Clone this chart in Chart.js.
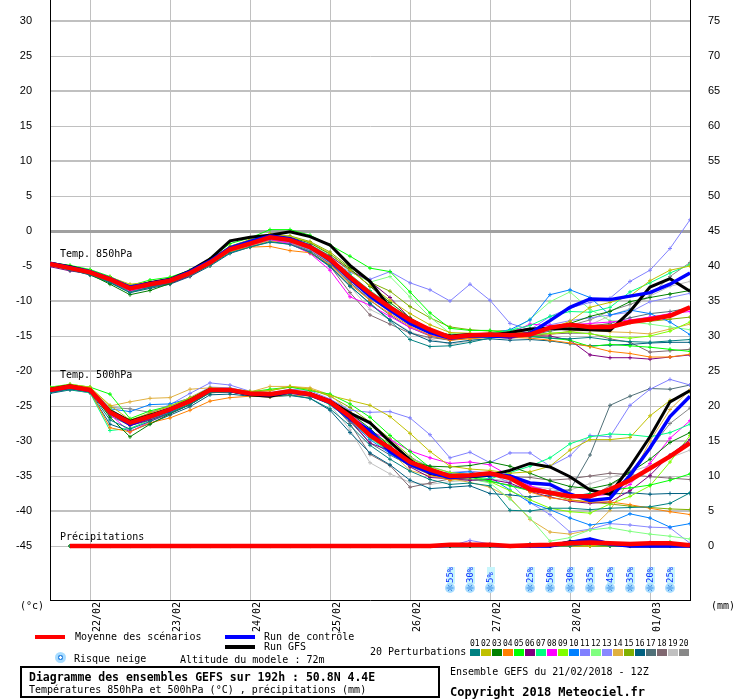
<!DOCTYPE html>
<html>
<head>
<meta charset="utf-8">
<script src="https://cdn.jsdelivr.net/npm/chart.js@4.4.1/dist/chart.umd.min.js"></script>
<style>
  body { margin: 0; background: #fff; }
  #wrap { position: relative; width: 740px; height: 700px; font-family: "DejaVu Sans Mono", monospace; font-size: 10px; color: #000; }
  #wrap canvas { position: absolute; left: 0; top: 0; }
  .t { position: absolute; white-space: nowrap; line-height: 12px; height: 12px; }
  .bar { position: absolute; height: 4px; width: 30px; }
  .b { font-weight: bold; }
  .sq { position: absolute; width: 10px; height: 7px; top: 649px; }
  .num { position: absolute; top: 639px; font-size: 8px; line-height: 9px; }
  .flake { position: absolute; width: 11px; height: 11px; border-radius: 50%;
    background: radial-gradient(circle, #ffffff 0 1px, #3a8ee6 1.5px 2.5px, #a8dcff 3px); }
  #box { position: absolute; left: 20px; top: 666px; width: 416px; height: 28px; border: 2px solid #000; }
</style>
</head>
<body>
<div id="wrap">
  <canvas id="chart" width="740" height="700"></canvas>

  <div class="t" style="left:60px;top:248px">Temp. 850hPa</div>
  <div class="t" style="left:60px;top:369px">Temp. 500hPa</div>
  <div class="t" style="left:60px;top:531px">Précipitations</div>
  <div class="t" style="left:20px;top:600px">(°c)</div>
  <div class="t" style="left:711px;top:600px">(mm)</div>

  <div class="bar" style="left:35px;top:635px;background:#ff0000"></div>
  <div class="t" style="left:75px;top:631px">Moyenne des scénarios</div>
  <div class="bar" style="left:225px;top:635px;background:#0000ff"></div>
  <div class="t" style="left:264px;top:631px">Run de contrôle</div>
  <div class="bar" style="left:225px;top:645px;background:#000000"></div>
  <div class="t" style="left:264px;top:641px">Run GFS</div>
  <div class="flake" style="left:55px;top:652px"></div>
  <div class="t" style="left:74px;top:653px">Risque neige</div>
  <div class="t" style="left:180px;top:654px">Altitude du modele : 72m</div>
  <div class="t" style="left:370px;top:646px">20 Perturbations</div>
  <div id="legendSquares"></div>

  <div id="box"></div>
  <div class="t b" style="left:29px;top:671px;font-size:11.5px">Diagramme des ensembles GEFS sur 192h : 50.8N 4.4E</div>
  <div class="t" style="left:29px;top:684px">Températures 850hPa et 500hPa (°C) , précipitations (mm)</div>
  <div class="t" style="left:450px;top:666px">Ensemble GEFS du 21/02/2018 - 12Z</div>
  <div class="t b" style="left:450px;top:686px;font-size:12px">Copyright 2018 Meteociel.fr</div>
</div>

<script>
// échéances (heures depuis le 21/02 12Z)
const hours = [0,6,12,18,24,30,36,42,48,54,60,66,72,78,84,90,96,102,108,114,120,126,132,138,144,150,156,162,168,174,180,186,192];
const dateHours = [12,36,60,84,108,132,156,180];
const dateLabels = ["22/02","23/02","24/02","25/02","26/02","27/02","28/02","01/03"];
const leftTicks = [-45,-40,-35,-30,-25,-20,-15,-10,-5,0,5,10,15,20,25,30];
const rightTicks = [0,5,10,15,20,25,30,35,40,45,50,55,60,65,70,75];

const pertColors = ["#008080","#c0c000","#008000","#ff8000","#00ff00","#800080","#00ff80","#ff00ff","#80ff00","#0080ff",
                    "#8080ff","#80ff80","#8888ff","#e0b040","#80b000","#006080","#507078","#806870","#c0c0c0","#888888"];

// Temp 850hPa
const mean850 = [-4.7,-5.3,-5.9,-6.9,-8.2,-7.6,-7.1,-6.0,-4.5, -2.6,-1.8,-0.9,-1.3,-2.3,-4.0,-6.6,-8.9,
                 -10.9,-12.7,-14.1,-15.2,-14.9,-14.8,-14.9,-14.8, -13.8,-13.4,-13.7,-13.7,-13.0,-12.6,-12.1,-10.9];
const ctrl850 = [-4.6,-5.2,-5.8,-6.8,-8.0,-7.5,-7.0,-5.8,-4.3, -2.4,-1.5,-0.7,-1.1,-2.2,-4.2,-6.8,-9.3,
                 -11.3,-13.2,-14.5,-15.3,-15.0,-15.0,-15.1,-14.6, -12.8,-10.9,-9.7,-9.8,-9.3,-8.8,-7.6,-6.0];
const gfs850 = [-4.6,-5.1,-5.8,-6.9,-8.1,-7.4,-6.9,-5.7,-4.0, -1.4,-0.9,-0.6,-0.1,-0.8,-2.0,-4.9,-7.2,
                -11.0,-12.8,-14.3,-15.0,-14.8,-14.9,-14.5,-14.0, -13.9,-14.0,-14.1,-14.2,-11.5,-8.0,-6.8,-8.6];
const pert850 = [
  [-4.9,-5.6,-6.2,-7.3,-8.8,-8.0,-7.4,-6.3,-4.9, -3.1,-2.3,-1.6,-1.9,-3.0,-5.0,-7.8,-10.4, -12.8,-15.5,-16.5,-16.4,-15.9,-15.3,-15.0,-15.1, -15.3,-15.4,-15.2,-15.6,-15.8,-15.9,-15.7,-15.5],
  [-4.6,-5.1,-5.7,-6.6,-7.6,-7.3,-6.8,-5.7,-4.0, -2.2,-1.2,-0.4,-0.8,-1.6,-3.2,-5.6,-7.8, -9.9,-11.8,-13.4,-14.5,-14.6,-14.7,-14.6,-14.5, -14.0,-12.9,-10.9,-10.2,-9.3,-7.1,-5.6,-5.0],
  [-4.8,-5.4,-6.2,-7.6,-9.1,-8.5,-7.5,-6.1,-4.4, -2.3,-1.5,-0.6,-0.9,-1.7,-3.3,-5.4,-7.9, -10.2,-12.4,-14.0,-15.0,-14.8,-14.6,-14.8,-14.4, -13.8,-13.2,-12.2,-11.5,-10.1,-9.5,-9.0,-8.5],
  [-4.7,-5.2,-5.9,-6.8,-8.0,-7.5,-7.2,-6.3,-4.8, -2.9,-2.3,-2.2,-2.8,-3.1,-4.8,-7.6,-9.9, -11.8,-13.6,-14.9,-15.6,-15.4,-15.1,-15.2,-15.3, -15.6,-16.0,-16.5,-17.2,-17.5,-18.0,-18.0,-17.6],
  [-4.5,-4.9,-5.5,-6.5,-7.8,-7.0,-6.6,-5.6,-4.0, -1.8,-1.0,0.2,0.2,-0.6,-2.0,-3.6,-5.3, -5.8,-8.7,-11.7,-13.9,-14.2,-14.2,-14.6,-15.0, -15.3,-15.6,-16.5,-16.2,-16.4,-16.6,-16.9,-17.2],
  [-5.1,-5.7,-6.1,-7.0,-8.3,-7.9,-7.5,-6.4,-4.8, -2.8,-1.9,-1.0,-1.2,-2.0,-3.6,-5.6,-7.2, -9.5,-12.5,-14.3,-15.2,-15.0,-15.1,-15.3,-15.0, -15.0,-15.6,-17.7,-18.1,-18.1,-18.3,-18.0,-17.7],
  [-4.6,-5.2,-5.8,-6.9,-8.3,-7.7,-7.0,-5.8,-4.3, -2.5,-1.5,-0.8,-1.1,-2.1,-3.8,-6.2,-8.5, -10.6,-12.6,-14.1,-15.0,-14.7,-14.6,-14.2,-13.5, -12.2,-11.5,-11.6,-10.9,-8.7,-7.4,-6.0,-4.8],
  [-4.8,-5.3,-6.0,-7.1,-8.5,-7.9,-7.3,-6.2,-4.7, -2.8,-2.0,-1.2,-1.8,-3.2,-5.6,-9.4,-10.6, -12.2,-13.8,-14.9,-15.4,-15.1,-14.9,-14.6,-13.3, -13.5,-13.4,-13.2,-13.0,-12.7,-12.3,-11.8,-11.5],
  [-4.7,-5.3,-5.9,-7.0,-8.2,-7.7,-7.2,-6.1,-4.6, -2.7,-1.7,-1.0,-1.4,-2.5,-4.4,-7.0,-9.4, -11.4,-13.2,-14.5,-15.3,-15.0,-14.9,-15.0,-14.9, -14.6,-14.4,-14.7,-15.1,-15.3,-15.0,-14.3,-13.0],
  [-4.6,-5.2,-5.8,-6.8,-8.1,-7.4,-6.9,-5.9,-4.3, -2.4,-1.4,-0.6,-1.0,-2.1,-3.8,-6.4,-8.8, -11.0,-13.2,-14.6,-15.4,-15.1,-14.6,-14.1,-12.7, -9.1,-8.4,-9.5,-12.0,-11.3,-11.8,-13.0,-14.8],
  [-4.7,-5.2,-5.8,-6.9,-8.0,-7.5,-7.0,-5.9,-4.4, -2.7,-1.9,-1.1,-1.5,-2.6,-4.1,-5.9,-6.9, -5.8,-7.4,-8.4,-10.0,-7.6,-9.9,-13.2,-14.1, -12.2,-11.0,-10.2,-9.6,-7.2,-5.6,-2.5,1.6],
  [-4.5,-5.0,-5.6,-6.6,-7.9,-7.3,-6.8,-5.7,-4.2, -2.4,-1.6,-0.7,-1.0,-1.9,-3.5,-5.8,-7.3, -6.5,-9.4,-12.3,-14.6,-14.8,-14.7,-14.4,-12.6, -10.1,-8.7,-11.2,-12.8,-13.0,-13.3,-13.7,-14.1],
  [-4.8,-5.4,-6.0,-7.0,-8.4,-7.8,-7.1,-6.1,-4.6, -2.8,-2.0,-1.2,-1.6,-2.7,-4.5,-7.0,-9.5, -11.6,-13.4,-14.6,-15.3,-15.1,-15.0,-14.9,-14.1, -13.4,-12.8,-12.4,-12.0,-11.6,-10.1,-9.5,-8.9],
  [-4.8,-5.4,-6.0,-7.1,-8.3,-7.8,-7.3,-6.3,-4.9, -3.0,-2.1,-1.4,-1.7,-2.6,-4.3,-6.8,-9.1, -11.0,-12.8,-14.4,-15.3,-15.4,-15.2,-15.3,-15.1, -14.8,-14.3,-14.2,-14.4,-14.5,-14.7,-14.0,-13.3],
  [-4.6,-5.1,-5.7,-6.7,-7.8,-7.3,-6.9,-5.8,-4.2, -2.2,-1.3,-0.5,-0.7,-1.5,-3.0,-5.2,-7.3, -8.6,-10.8,-12.4,-13.7,-14.1,-14.3,-14.2,-14.0, -13.8,-13.7,-13.5,-13.4,-13.1,-12.9,-12.6,-12.3],
  [-4.9,-5.5,-6.3,-7.4,-8.8,-8.2,-7.6,-6.5,-5.0, -3.2,-2.3,-1.5,-1.9,-3.1,-5.1,-7.9,-10.3, -12.7,-14.5,-15.7,-16.0,-15.6,-15.4,-15.6,-15.5, -15.7,-16.1,-16.4,-16.3,-16.2,-16.0,-15.9,-15.9],
  [-4.8,-5.4,-6.1,-7.2,-8.6,-8.0,-7.4,-6.3,-4.7, -2.9,-2.1,-1.3,-1.7,-2.8,-4.6,-7.3,-9.9, -12.0,-13.8,-15.0,-15.6,-15.3,-15.1,-15.2,-14.9, -14.3,-13.9,-13.6,-13.2,-12.4,-11.8,-11.5,-11.0],
  [-4.9,-5.5,-6.2,-7.3,-8.6,-8.1,-7.5,-6.4,-4.9, -3.0,-2.2,-1.4,-1.8,-3.0,-5.0,-8.8,-12.0, -13.3,-14.6,-15.2,-15.6,-15.2,-15.0,-15.1,-14.9, -14.7,-14.6,-14.6,-15.4,-15.9,-17.3,-17.1,-16.9],
  [-4.7,-5.3,-6.0,-7.0,-8.4,-7.9,-7.3,-6.2,-4.7, -2.9,-2.1,-1.3,-1.7,-2.9,-4.9,-7.9,-11.2, -12.6,-14.4,-15.4,-16.2,-15.7,-15.3,-15.1,-14.8, -14.6,-14.5,-13.4,-12.1,-11.1,-9.3,-7.9,-7.2],
  [-4.8,-5.3,-6.0,-7.1,-8.3,-7.8,-7.2,-6.2,-4.7, -2.9,-2.0,-1.2,-1.6,-2.8,-4.7,-7.4,-9.7, -11.4,-13.2,-14.5,-15.2,-15.0,-14.8,-14.7,-14.5, -14.2,-13.5,-12.7,-11.4,-10.5,-9.3,-6.5,-4.5]
];

// Temp 500hPa
const mean500 = [-22.7,-22.2,-22.7,-25.9,-27.4,-26.5,-25.5,-24.3,-22.7, -22.7,-23.2,-23.3,-22.9,-23.3,-24.4,-26.5,-29.2,
                 -31.0,-33.0,-34.1,-35.0,-34.9,-34.6,-35.3,-36.9, -37.4,-37.9,-37.9,-36.9,-35.6,-33.9,-32.2,-30.3];
const ctrl500 = [-22.8,-22.3,-22.8,-25.9,-27.6,-26.6,-25.6,-24.3,-22.7, -22.8,-23.3,-23.4,-23.0,-23.4,-24.5,-26.8,-28.5,
                 -31.5,-33.3,-34.5,-35.2,-35.0,-34.8,-35.0,-36.0, -36.2,-37.6,-38.5,-38.2,-34.9,-31.0,-26.5,-23.6];
const gfs500 = [-22.6,-22.1,-22.7,-25.7,-27.2,-26.3,-25.4,-24.2,-22.6, -22.8,-23.4,-23.6,-23.0,-23.2,-24.3,-26.0,-27.4,
                -30.1,-32.7,-34.6,-35.1,-35.1,-34.9,-34.2,-33.2, -33.7,-35.1,-37.0,-37.6,-33.7,-29.4,-24.4,-22.8];
const pert500 = [
  [-23.1,-22.6,-23.0,-27.0,-28.3,-27.2,-26.0,-24.8,-23.1, -23.0,-23.5,-23.6,-23.4,-23.9,-25.4,-27.8,-30.6, -32.6,-34.3,-35.5,-36.2,-36.0,-36.4,-39.9,-40.0, -39.6,-39.6,-39.8,-39.6,-39.5,-39.4,-38.9,-37.4],
  [-22.4,-21.9,-22.3,-24.9,-27.0,-26.0,-25.0,-23.8,-22.4, -22.5,-22.9,-22.8,-22.2,-22.6,-23.5,-24.2,-24.9, -26.5,-28.9,-31.5,-33.6,-34.0,-34.2,-34.6,-34.4, -33.6,-31.3,-29.8,-29.8,-29.5,-26.4,-24.2,-23.0],
  [-22.9,-22.4,-22.8,-26.6,-29.4,-27.6,-26.1,-24.8,-23.1, -23.0,-23.4,-23.5,-23.0,-23.4,-24.3,-26.0,-28.2, -30.8,-32.9,-33.6,-33.7,-33.5,-33.0,-33.6,-34.6, -35.7,-36.5,-36.8,-36.2,-34.5,-32.6,-30.2,-28.8],
  [-22.8,-22.4,-22.9,-28.1,-28.7,-27.4,-26.7,-25.6,-24.3, -23.8,-23.6,-23.7,-23.4,-23.6,-24.6,-26.7,-29.3, -31.4,-33.4,-34.8,-35.6,-35.2,-34.6,-35.0,-37.3, -38.1,-38.5,-38.7,-38.7,-39.1,-39.6,-40.1,-40.5],
  [-22.3,-21.9,-22.3,-23.3,-26.8,-25.7,-25.0,-23.9,-22.5, -22.6,-23.0,-22.6,-22.3,-22.8,-23.3,-24.7,-26.6, -29.2,-31.5,-33.8,-35.0,-35.2,-35.7,-36.4,-37.1, -37.3,-37.8,-37.6,-37.0,-36.7,-36.3,-35.6,-34.7],
  [-22.9,-22.5,-23.0,-26.1,-27.8,-27.0,-26.0,-24.8,-23.0, -22.8,-23.3,-23.5,-23.1,-23.4,-24.6,-27.0,-30.3, -31.4,-33.7,-35.2,-35.4,-35.6,-35.5,-36.0,-37.2, -38.0,-38.6,-38.9,-38.7,-37.1,-34.9,-32.0,-29.8],
  [-23.0,-22.6,-23.1,-28.5,-28.2,-27.0,-25.9,-24.7,-23.0, -22.9,-23.3,-23.4,-23.0,-23.5,-24.8,-27.0,-29.5, -31.6,-33.4,-34.4,-35.0,-35.1,-35.4,-34.5,-33.6, -32.4,-30.4,-29.4,-29.0,-29.1,-29.4,-28.8,-27.6],
  [-22.8,-22.3,-22.8,-26.2,-28.7,-27.2,-26.1,-24.8,-22.9, -22.8,-23.1,-23.2,-22.8,-23.1,-24.1,-26.0,-28.6, -29.8,-31.4,-32.4,-33.2,-33.0,-33.4,-35.0,-36.4, -37.2,-37.6,-37.9,-37.6,-36.2,-33.2,-29.6,-27.1],
  [-22.6,-22.2,-22.6,-25.4,-27.3,-26.4,-25.4,-24.2,-22.6, -22.6,-23.0,-23.2,-22.7,-23.1,-24.2,-26.2,-28.7, -30.4,-32.5,-33.7,-34.5,-34.8,-35.8,-37.1,-38.4, -39.6,-40.1,-40.3,-39.0,-37.9,-36.4,-33.0,-29.2],
  [-22.6,-22.1,-22.6,-25.4,-25.8,-24.8,-24.7,-23.9,-22.8, -22.9,-23.3,-23.4,-23.0,-23.5,-24.7,-27.1,-29.8, -31.8,-33.6,-34.3,-34.6,-34.4,-35.2,-37.0,-38.8, -39.8,-41.0,-42.0,-41.6,-40.4,-41.0,-42.3,-41.8],
  [-22.6,-22.1,-22.5,-25.4,-27.1,-26.0,-24.8,-23.2,-21.7, -22.0,-22.9,-23.1,-22.6,-22.8,-24.0,-25.6,-25.9, -25.8,-26.7,-29.1,-32.4,-31.6,-33.1,-31.7,-31.7, -33.6,-32.1,-29.2,-29.4,-24.9,-22.6,-21.2,-22.0],
  [-22.8,-22.3,-22.8,-26.3,-27.7,-26.8,-25.8,-24.6,-22.9, -22.8,-23.3,-23.4,-23.0,-23.4,-24.6,-26.8,-29.6, -31.6,-33.4,-34.6,-35.6,-35.4,-36.0,-38.3,-41.0, -44.3,-43.8,-42.7,-42.4,-42.9,-43.3,-43.6,-44.0],
  [-22.7,-22.2,-22.7,-25.7,-27.3,-26.3,-25.2,-23.8,-22.3, -22.4,-23.0,-23.2,-22.8,-23.2,-24.3,-26.1,-28.4, -30.5,-32.4,-33.6,-34.5,-34.3,-34.6,-36.0,-38.8, -40.5,-43.0,-42.6,-41.8,-42.0,-42.3,-42.4,-44.6],
  [-22.4,-22.0,-22.4,-25.0,-24.4,-23.9,-23.8,-22.6,-22.4, -22.6,-23.0,-22.2,-22.2,-22.4,-23.4,-25.8,-28.6, -31.5,-34.2,-35.0,-35.4,-35.9,-36.6,-38.1,-41.2, -43.0,-43.3,-42.7,-39.9,-35.5,-30.0,-25.5,-22.7],
  [-22.5,-22.1,-22.6,-25.6,-27.0,-26.2,-25.3,-24.1,-22.5, -22.5,-23.0,-22.8,-22.3,-22.6,-23.6,-25.2,-27.3, -29.7,-32.2,-34.0,-35.1,-35.0,-34.8,-35.4,-36.8, -37.6,-38.4,-38.7,-39.0,-39.3,-39.5,-39.7,-39.8],
  [-23.2,-22.7,-23.1,-27.6,-28.6,-27.5,-26.3,-25.1,-23.4, -23.3,-23.6,-23.7,-23.5,-23.9,-25.6,-28.8,-31.7, -33.4,-35.6,-36.8,-36.6,-36.4,-37.5,-37.7,-38.0, -37.7,-37.9,-37.5,-37.6,-37.4,-37.6,-37.5,-37.5],
  [-22.9,-22.5,-22.9,-26.4,-27.8,-26.9,-25.9,-24.6,-22.9, -22.9,-23.3,-23.4,-23.1,-23.5,-24.7,-27.2,-30.3, -32.0,-33.5,-34.7,-35.2,-35.5,-35.8,-36.3,-37.0, -37.2,-37.0,-32.0,-24.9,-23.6,-22.5,-22.6,-22.0],
  [-22.8,-22.3,-22.7,-26.0,-27.6,-26.7,-25.7,-24.5,-22.8, -22.8,-23.2,-23.3,-22.9,-23.3,-24.4,-27.5,-31.9, -33.5,-36.6,-36.0,-35.4,-35.1,-34.8,-35.1,-35.2, -35.6,-35.4,-35.0,-34.6,-34.8,-35.1,-35.3,-35.5],
  [-22.7,-22.2,-22.8,-26.0,-27.3,-26.4,-25.4,-24.2,-22.6, -22.7,-23.1,-23.3,-22.9,-23.4,-24.8,-28.4,-33.1, -34.7,-35.9,-36.2,-35.8,-35.6,-35.4,-35.7,-36.5, -36.8,-37.0,-36.1,-35.2,-34.4,-33.5,-32.4,-31.3],
  [-22.6,-22.2,-22.6,-25.2,-25.4,-25.9,-25.1,-24.0,-22.5, -22.6,-23.0,-23.2,-22.8,-23.2,-24.3,-26.6,-29.4, -31.4,-33.6,-34.8,-35.3,-35.0,-34.8,-35.3,-36.5, -37.2,-37.8,-38.0,-36.4,-34.4,-31.1,-27.5,-25.3]
];

// Précipitations (mm / 6h)
const meanPrecip = [null, 0,0,0,0,0,0,0,0, 0,0,0,0,0,0,0,0, 0,0,0,0.2,0.2,0.2,0,0.1, 0.2,0.4,0.5,0.4,0.3,0.4,0.4,0.1];
const ctrlPrecip = [null, 0,0,0,0,0,0,0,0, 0,0,0,0,0,0,0,0, 0,0,0,0.1,0.1,0.1,0,0, 0,0.5,1.0,0.3,0,0,0,0];
const gfsPrecip  = [null, 0,0,0,0,0,0,0,0, 0,0,0,0,0,0,0,0, 0,0,0,0,0,0,0,0, 0,0.6,0.7,0.4,0,0,0,0];
const pertPrecip = [
  [null, 0,0,0,0,0,0,0,0, 0,0,0,0,0,0,0,0, 0,0,0,0,0,0,0,0, 0,0,0.3,0,0,0,0,0],
  [null, 0,0,0,0,0,0,0,0, 0,0,0,0,0,0,0,0, 0,0,0,0,0,0.1,0,0, 0,0,0,0,0,0,0,0],
  [null, 0,0,0,0,0,0,0,0, 0,0,0,0,0,0,0,0, 0,0,0,0,0,0,0,0, 0,0.6,0.4,0,0,0,0,0],
  [null, 0,0,0,0,0,0,0,0, 0,0,0,0,0,0,0,0, 0,0,0,0,0,0,0,0, 0,0,0,0.4,0,0,0,0],
  [null, 0,0,0,0,0,0,0,0, 0,0,0,0,0,0,0,0, 0,0,0,0,0,0,0,0, 0,0,0,0,0,0,0.6,0],
  [null, 0,0,0,0,0,0,0,0, 0,0,0,0,0,0,0,0, 0,0,0,0,0.4,0,0,0, 0,0.6,0,0,0,0,0,0],
  [null, 0,0,0,0,0,0,0,0, 0,0,0,0,0,0,0,0, 0,0,0,0,0,0,0,0, 0,0.4,0,0,0,0,0,0],
  [null, 0,0,0,0,0,0,0,0, 0,0,0,0,0,0,0,0, 0,0,0,0,0,0,0,0, 0,0,0,0,0,0.5,0,0],
  [null, 0,0,0,0,0,0,0,0, 0,0,0,0,0,0,0,0, 0,0,0,0,0,0,0,0, 0.3,0,0,0,0,0,0,0],
  [null, 0,0,0,0,0,0,0,0, 0,0,0,0,0,0,0,0, 0,0,0,0,0,0,0,0, 0,0.7,1.0,0,0,0,0,0],
  [null, 0,0,0,0,0,0,0,0, 0,0,0,0,0,0,0,0, 0,0,0,0,0.8,0.3,0,0, 0,0,0,0,0,0,0,0],
  [null, 0,0,0,0,0,0,0,0, 0,0,0,0,0,0,0,0, 0,0,0,0,0,0,0,0, 0,0,0,0,0.2,0,0,0],
  [null, 0,0,0,0,0,0,0,0, 0,0,0,0,0,0,0,0, 0,0,0,0,0,0,0,0, 0,0,0,0.3,0,0,0,0],
  [null, 0,0,0,0,0,0,0,0, 0,0,0,0,0,0,0,0, 0,0,0,0,0,0,0,0, 0,0,0.2,0,0,0,0,0],
  [null, 0,0,0,0,0,0,0,0, 0,0,0,0,0,0,0,0, 0,0,0,0,0,0,0,0, 0,0.5,0,0,0,0,0,0],
  [null, 0,0,0,0,0,0,0,0, 0,0,0,0,0,0,0,0, 0,0,0,0,0,0,0,0.3, 0,0,0,0,0,0,0,0],
  [null, 0,0,0,0,0,0,0,0, 0,0,0,0,0,0,0,0, 0,0,0,0,0,0,0,0, 0,0,0,0.4,0,0,0,0],
  [null, 0,0,0,0,0,0,0,0, 0,0,0,0,0,0,0,0, 0,0,0,0,0,0,0,0, 0,0.4,0.4,0,0,0,0,0],
  [null, 0,0,0,0,0,0,0,0, 0,0,0,0,0,0,0,0, 0,0,0,0,0,0,0,0, 0,0,0,0,0,0.3,0,0],
  [null, 0,0,0,0,0,0,0,0, 0,0,0,0,0,0,0,0, 0,0,0,0,0,0.3,0,0, 0,0,0,0,0,0,0,0]
];

// Risque neige
const snowHours = [120,126,132,144,150,156,162,168,174,180,186];
const snowPct = [55,30,5,25,50,30,35,45,35,20,25];

// légende des perturbations
const sqWrap = document.getElementById("legendSquares");
pertColors.forEach((c, k) => {
  const x = 470 + k * 11;
  const n = document.createElement("div");
  n.className = "num";
  n.style.left = x + "px";
  n.textContent = String(k + 1).padStart(2, "0");
  sqWrap.appendChild(n);
  const s = document.createElement("div");
  s.className = "sq";
  s.style.left = x + "px";
  s.style.background = c;
  sqWrap.appendChild(s);
});

function pts(arr) {
  return hours.map((h, i) => ({ x: h, y: arr[i] }));
}

const datasets = [];
function mainLine(arr, color, width, axis, order) {
  datasets.push({ data: pts(arr), borderColor: color, borderWidth: width, pointRadius: 0,
    yAxisID: axis, order: order, tension: 0 });
}
function pertLine(arr, color, axis) {
  datasets.push({ data: pts(arr), borderColor: color, backgroundColor: color, borderWidth: 1,
    pointStyle: "cross", pointRadius: 2, pointBorderWidth: 1, pointBorderColor: color,
    yAxisID: axis, order: 5, tension: 0 });
}

mainLine(mean850, "#ff0000", 4.5, "y", 0);
mainLine(mean500, "#ff0000", 4.5, "y", 0);
mainLine(meanPrecip, "#ff0000", 4.5, "y2", 0);
mainLine(ctrl850, "#0000ff", 3.5, "y", 1);
mainLine(ctrl500, "#0000ff", 3.5, "y", 1);
mainLine(ctrlPrecip, "#0000ff", 3.5, "y2", 1);
mainLine(gfs850, "#000000", 3, "y", 2);
mainLine(gfs500, "#000000", 3, "y", 2);
mainLine(gfsPrecip, "#000000", 3, "y2", 2);
pertColors.forEach((c, k) => {
  pertLine(pert850[k], c, "y");
  pertLine(pert500[k], c, "y");
  pertLine(pertPrecip[k], c, "y2");
});

// icônes neige sous les courbes
const snowPlugin = {
  id: "snowRisk",
  afterDatasetsDraw(chart) {
    const ctx = chart.ctx;
    const xs = chart.scales.x;
    const bottom = chart.chartArea.bottom;
    ctx.save();
    snowHours.forEach((h, k) => {
      const x = Math.round(xs.getPixelForValue(h));
      // fond du texte
      ctx.fillStyle = "#c8f6fc";
      ctx.fillRect(x - 3, bottom - 33, 8, 17);
      ctx.save();
      ctx.translate(x + 1, bottom - 17);
      ctx.rotate(-Math.PI / 2);
      ctx.fillStyle = "#1030ff";
      ctx.font = "9px 'DejaVu Sans Mono'";
      ctx.textBaseline = "middle";
      ctx.textAlign = "left";
      ctx.fillText(snowPct[k] + "%", 0, 0);
      ctx.restore();
      // flocon
      const cy = bottom - 12;
      ctx.fillStyle = "#a8dcff";
      ctx.beginPath();
      ctx.arc(x, cy, 5, 0, Math.PI * 2);
      ctx.fill();
      ctx.strokeStyle = "#3a8ee6";
      ctx.lineWidth = 1;
      for (let a = 0; a < 3; a++) {
        const ang = a * Math.PI / 3;
        ctx.beginPath();
        ctx.moveTo(x - 3.5 * Math.cos(ang), cy - 3.5 * Math.sin(ang));
        ctx.lineTo(x + 3.5 * Math.cos(ang), cy + 3.5 * Math.sin(ang));
        ctx.stroke();
      }
      ctx.fillStyle = "#ffffff";
      ctx.fillRect(x - 0.5, cy - 0.5, 1, 1);
    });
    ctx.restore();
  }
};

const gridColor = "#c0c0c0";
new Chart(document.getElementById("chart").getContext("2d"), {
  type: "line",
  data: { datasets: datasets },
  options: {
    responsive: false,
    animation: false,
    devicePixelRatio: 1,
    layout: { padding: 0, autoPadding: false },
    plugins: { legend: { display: false }, tooltip: { enabled: false } },
    events: [],
    scales: {
      x: {
        type: "linear",
        min: 0,
        max: 192,
        afterBuildTicks: (scale) => { scale.ticks = dateHours.map((v) => ({ value: v })); },
        afterFit: (scale) => { scale.height = 100; scale.paddingLeft = 0; scale.paddingRight = 0; },
        ticks: {
          autoSkip: false,
          minRotation: 90,
          maxRotation: 90,
          padding: 2,
          labelOffset: 7,
          color: "#000",
          font: { family: "DejaVu Sans Mono", size: 10 },
          callback: (v) => dateLabels[dateHours.indexOf(v)] || ""
        },
        grid: { color: gridColor, lineWidth: 1, drawTicks: false },
        border: { display: true, color: "#000", width: 1 }
      },
      y: {
        position: "left",
        min: -52.71,
        max: 33.0,
        afterBuildTicks: (scale) => { scale.ticks = leftTicks.map((v) => ({ value: v })); },
        afterFit: (scale) => { scale.width = 50; scale.paddingTop = 0; scale.paddingBottom = 0; },
        ticks: { padding: 18, color: "#000", font: { family: "Liberation Sans", size: 11 } },
        grid: {
          drawTicks: false,
          color: (c) => (c.tick && c.tick.value === 0 ? "#a0a0a0" : gridColor),
          lineWidth: (c) => (c.tick && c.tick.value === 0 ? 3 : (c.tick && c.tick.value % 10 === 0 ? 2 : 1))
        },
        border: { display: true, color: "#000", width: 1 }
      },
      y2: {
        position: "right",
        min: -7.71,
        max: 78.0,
        afterBuildTicks: (scale) => { scale.ticks = rightTicks.map((v) => ({ value: v })); },
        afterFit: (scale) => { scale.width = 50; scale.paddingTop = 0; scale.paddingBottom = 0; },
        ticks: { padding: 18, color: "#000", font: { family: "Liberation Sans", size: 11 } },
        grid: { display: false, drawTicks: false },
        border: { display: true, color: "#000", width: 1 }
      }
    }
  },
  plugins: [snowPlugin]
});
</script>
</body>
</html>
